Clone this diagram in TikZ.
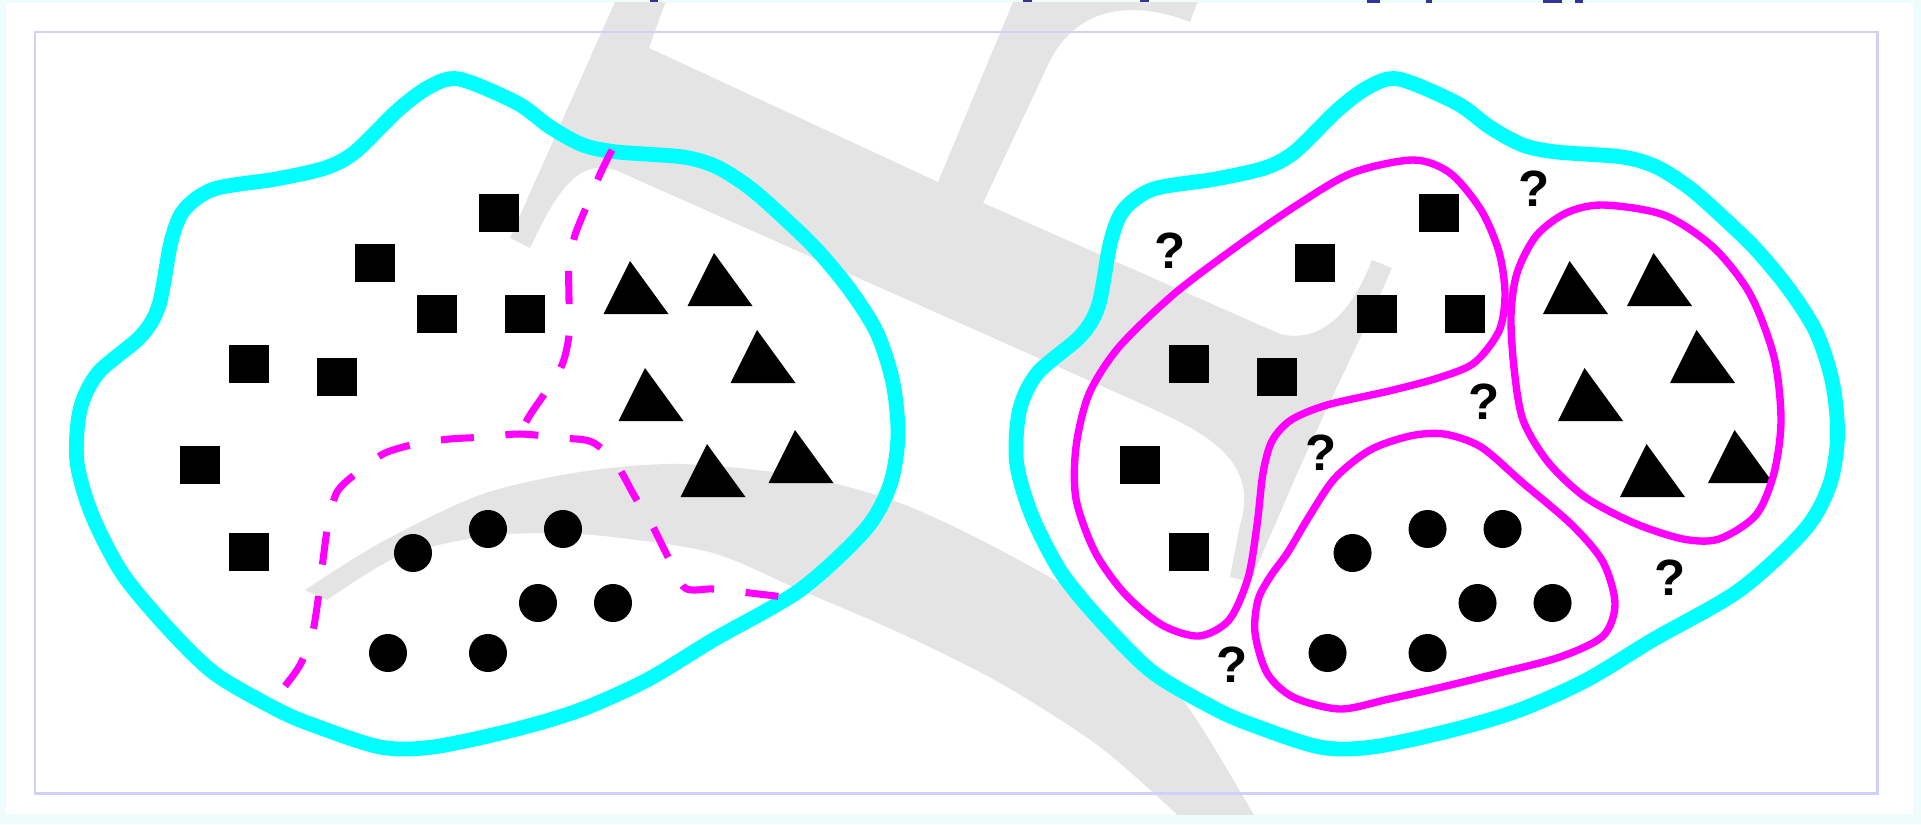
\documentclass[tikz,border=0pt]{standalone}
\usepackage{fontspec}
\setmainfont{Liberation Sans}
\usepackage{tikz}
\usetikzlibrary{positioning}
\definecolor{gcyan}{HTML}{00FFFF}
\definecolor{gmag}{HTML}{FF00FF}
\definecolor{gshade}{HTML}{E4E4E4}
\definecolor{glav}{HTML}{D0D0FF}
\definecolor{gpale}{HTML}{EEFCFC}
\definecolor{gnavy}{HTML}{333399}
\tikzset{
  rim/.style={draw=gcyan,line width=4.2pt,line join=round},
  lasso/.style={draw=gmag,line width=2.1pt,line join=round},
  cut/.style={draw=gmag,line width=2pt,dash pattern=on 9.4pt off 9pt},
  qm/.style={font=\fontsize{14.5}{16}\selectfont\bfseries,inner sep=0pt,text=black},
  shade/.style={fill=gshade},
}

\begin{document}
\begin{tikzpicture}[x=0.01cm,y=-0.01cm]
  \useasboundingbox (0,0) rectangle (1921,824);
  % page
  \fill[gpale] (0,0) rectangle (1921,824);
  \fill[white] (6,3) rectangle (1913,814);
  \foreach \x/\w in {650/8,1023/9,1140/9,1367/13,1426/6,1543/19,1575/8}
    \fill[gnavy] (\x,0) rectangle (\x+\w,3);
  % watermark
  \begin{scope}
    \clip (6,3) rectangle (1913,814);
    \fill[shade] (618,-5) -- (510,238) -- (530,248)
      .. controls (555,195) and (578,154) .. (620,172) -- (1133,400)
      .. controls (1195,428) and (1262,455) .. (1240,525) -- (1230,577) -- (1250,582)
      -- (1300,467) .. controls (1330,400) and (1365,330) .. (1392,268) -- (1372,260)
      .. controls (1355,305) and (1325,345) .. (1280,334) -- (983,203) -- (1047,67)
      .. controls (1070,15) and (1120,-5) .. (1190,22) -- (1200,-5) -- (1016,-5)
      -- (938,182) -- (649,48) -- (668,-5) -- cycle;
    \fill[shade] plot[smooth] coordinates {(305,590) (380,543) (480,495) (580,472) (680,464)
      (800,476) (900,503) (1000,550) (1100,610) (1183,700) (1257,820) (1275,850)}
      -- (1200,850) -- plot[smooth] coordinates {(1183,820) (1100,747) (1000,683) (900,633)
      (800,590) (713,553) (613,537) (547,533) (480,537) (397,557) (327,600)} -- cycle;
  \end{scope}
  \draw[glav,line width=0.85pt] (35,32) rectangle (1877,793);
  % two samples, same points
  \foreach \dx in {0,9.39} {
    \begin{scope}[xshift=\dx cm]
      \draw[rim] plot[smooth cycle] coordinates {(459,79) (517,103) (550,127) (583,145) (617,152)
        (683,157) (717,167) (750,188) (783,217) (817,250) (850,290) (877,333) (893,383) (898,436)
        (890,485) (865,530) (800,590) (713,640) (647,680) (580,710) (513,730) (433,747) (380,747)
        (313,725) (276,709) (214,673) (165,625) (122,573) (92,515) (77,462) (80,410) (98,373)
        (141,336) (159,305) (171,242) (184,210) (214,189) (276,179) (325,168) (355,152) (398,110)
        (429,87)};
      \foreach \x/\y in {499/213,375/263,437/314,525/314,249/364,337/377,200/465,249/552}
        \fill (\x-20,\y-19) rectangle (\x+20,\y+19);
      \foreach \x/\y in {636/314,720/306,763/383,651/421,713/497,801/483}
        \fill (\x-32.5,\y) -- (\x-6,\y-53) -- (\x+32.5,\y) -- cycle;
      \foreach \x/\y in {413/553,488/529,563/529,538/603,613/603,388/653,488/653}
        \fill (\x,\y) circle[radius=0.19cm];
    \end{scope}
  }
  % left: dashed split
  \draw[cut] plot[smooth] coordinates {(612,150) (601,172) (588,203) (575,235) (569,265)
    (569,300) (569,335) (562,365) (545,393) (530,415) (518,437)};
  \draw[cut] plot[smooth,tension=0.5] coordinates {(285,686) (300,665) (312,635) (318,600)
    (323,560) (328,525) (337,492) (358,472) (385,453) (420,443) (450,439) (485,437) (520,434)
    (563,438) (592,442) (615,462) (635,497) (653,527) (668,557) (685,588) (713,589) (750,593)
    (792,598)};
  % right: clusters
  \draw[lasso] plot[smooth cycle] coordinates {(1413,160) (1450,173) (1481,210) (1499,252)
    (1505,294) (1499,331) (1474,363) (1438,378) (1389,391) (1327,405) (1291,420) (1272,441)
    (1263,473) (1257,525) (1248,578) (1229,620) (1199,636) (1162,625) (1125,594) (1095,552)
    (1076,499) (1076,447) (1089,394) (1119,347) (1174,294) (1236,247) (1297,205) (1352,173)};
  \draw[lasso] plot[smooth cycle] coordinates {(1603,205) (1664,215) (1713,247) (1750,294)
    (1774,357) (1781,420) (1774,473) (1756,515) (1719,539) (1683,539) (1634,523) (1585,497)
    (1548,462) (1523,420) (1514,368) (1511,315) (1517,273) (1536,236) (1566,213)};
  \draw[lasso] plot[smooth cycle] coordinates {(1444,434) (1481,447) (1523,483) (1572,525)
    (1603,562) (1615,604) (1603,636) (1560,657) (1499,673) (1438,688) (1389,699) (1340,709)
    (1293,697) (1267,673) (1255,633) (1258,600) (1270,577) (1288,552) (1310,515) (1335,478)
    (1370,450) (1410,436)};
  \node[qm] (q1) at (1170,251) {?};
  \node[qm] (q2) at (1534,189) {?};
  \node[qm] (q3) at (1484,402) {?};
  \node[qm] (q4) at (1321,453) {?};
  \node[qm] (q5) at (1670,578) {?};
  \node[qm] (q6) at (1232,665) {?};
\end{tikzpicture}
\end{document}
